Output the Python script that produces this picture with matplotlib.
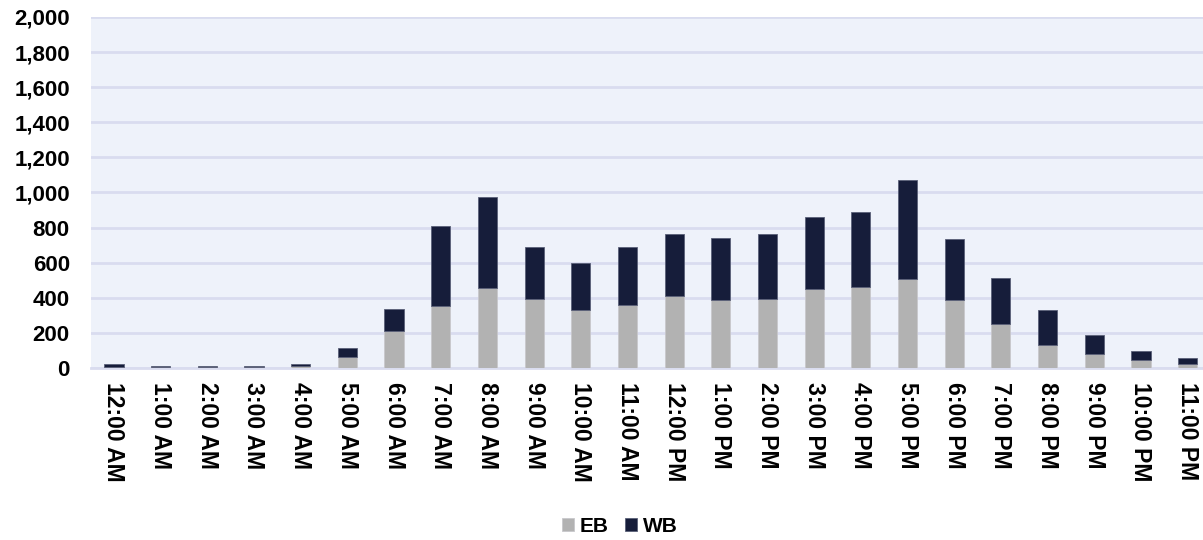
import matplotlib.pyplot as plt
from matplotlib.ticker import FuncFormatter

hours = ['12:00 AM', '1:00 AM', '2:00 AM', '3:00 AM', '4:00 AM', '5:00 AM',
         '6:00 AM', '7:00 AM', '8:00 AM', '9:00 AM', '10:00 AM', '11:00 AM',
         '12:00 PM', '1:00 PM', '2:00 PM', '3:00 PM', '4:00 PM', '5:00 PM',
         '6:00 PM', '7:00 PM', '8:00 PM', '9:00 PM', '10:00 PM', '11:00 PM']

eb = [8, 7, 7, 4, 14, 65, 208, 352, 453, 392, 330, 360,
      410, 390, 396, 451, 463, 505, 385, 248, 130, 82, 44, 23]
wb = [15, 6, 3, 9, 11, 49, 131, 459, 524, 298, 266, 330,
      352, 353, 366, 412, 426, 567, 350, 264, 200, 107, 55, 32]

plt.rcParams['font.family'] = ['Liberation Sans', 'DejaVu Sans']
plt.rcParams['font.weight'] = 'bold'

fig = plt.figure(figsize=(12.03, 5.40), dpi=100)
ax = fig.add_axes([90.6 / 1203, 1 - 368 / 540, (1211 - 90.6) / 1203, 351 / 540])
ax.set_facecolor('#EEF2FA')

x = range(len(hours))
ax.bar(x, eb, width=0.41, color='#B2B2B2', edgecolor='#C8C8CC', linewidth=0.6, label='EB', zorder=3)
ax.bar(x, wb, width=0.41, bottom=eb, color='#161D3A', edgecolor='#5A6078', linewidth=0.6, label='WB', zorder=3)

ax.set_xlim(-0.5, len(hours) - 0.5)
ax.set_ylim(0, 2000)
ax.set_yticks(range(0, 2001, 200))
ax.yaxis.set_major_formatter(FuncFormatter(lambda v, p: f'{int(v):,}'))
ax.grid(axis='y', color='#D9DCEF', linewidth=2, zorder=0)
for s in ['top', 'right', 'left']:
    ax.spines[s].set_visible(False)
ax.spines['bottom'].set_color('#D9DCEF')
ax.spines['bottom'].set_linewidth(2)
ax.tick_params(axis='y', length=0, labelsize=16, pad=15)
ax.tick_params(axis='x', length=0, labelsize=16.5, pad=10)
ax.set_xticks(list(x))
ax.set_xticklabels(hours, rotation=-90, fontweight='bold')
for lbl in ax.get_yticklabels():
    lbl.set_fontweight('bold')

fig.legend(loc='center', bbox_to_anchor=(0.515, 14 / 540), ncol=2, frameon=False,
           handlelength=0.6, handleheight=0.6, handletextpad=0.25,
           columnspacing=0.8, prop={'weight': 'bold', 'size': 15})

fig.savefig('out.png', dpi=100)
